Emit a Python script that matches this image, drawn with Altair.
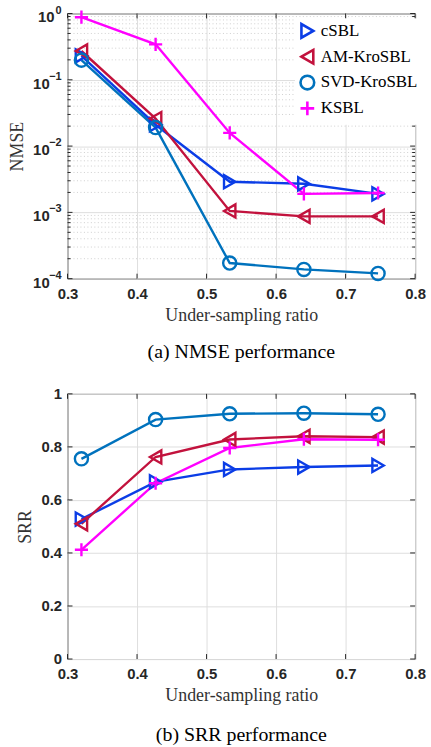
import altair as alt
import pandas as pd

# Under-sampling ratios (x positions shared by every series)
ratio = [0.32, 0.4267, 0.5333, 0.64, 0.7467]

methods = ["cSBL", "AM-KroSBL", "SVD-KroSBL", "KSBL"]
colors = ["#0b3de6", "#c2123d", "#0072bd", "#ff00ff"]
shapes = ["triangle-right", "triangle-left", "circle", "M-1,0H1M0,-1V1"]

# NMSE per method
nmse_csbl = [0.23, 0.021, 0.0029, 0.0027, 0.0019]
nmse_am = [0.272, 0.026, 0.00105, 0.00087, 0.00087]
nmse_svd = [0.198, 0.019, 0.000172, 0.000138, 0.00012]
nmse_ksbl = [0.88, 0.343, 0.0158, 0.0019, 0.00196]

# SRR per method
srr_csbl = [0.528, 0.668, 0.715, 0.724, 0.730]
srr_am = [0.510, 0.762, 0.828, 0.840, 0.837]
srr_svd = [0.755, 0.903, 0.925, 0.927, 0.923]
srr_ksbl = [0.412, 0.663, 0.796, 0.829, 0.827]

# Axis ticks and labels
x_ticks = [0.3, 0.4, 0.5, 0.6, 0.7, 0.8]
nmse_ticks = [1, 0.1, 0.01, 0.001, 0.0001]
nmse_bases = ["10", "10", "10", "10", "10"]
nmse_exponents = ["0", "\u22121", "\u22122", "\u22123", "\u22124"]
nmse_minor = [k * d for d in [0.0001, 0.001, 0.01, 0.1] for k in range(2, 10)]
srr_ticks = [0, 0.2, 0.4, 0.6, 0.8, 1]

captions = ["(a) NMSE performance", "(b) SRR performance"]
x_title = "Under-sampling ratio"

W, H = 350, 267
INK = "#262626"
GRID = "#dedede"
SANS = "Liberation Sans"
SERIF = "Liberation Serif"


def long_table(series):
    rows = []
    for m, vals in zip(methods, series):
        for xv, yv in zip(ratio, vals):
            rows.append({"ratio": xv, "value": yv, "method": m})
    return pd.DataFrame(rows)


def panel(series, yscale, yaxis, ytick_values, caption, caption_gap,
          minor=None, legend=None, powers=None):
    df = long_table(series)
    x_enc = alt.X(
        "ratio:Q",
        scale=alt.Scale(domain=[0.3, 0.8], nice=False, zero=False),
        axis=alt.Axis(
            values=x_ticks, format="~g", title=x_title, grid=True, gridColor=GRID,
            ticks=False, domain=False, labelPadding=8, labelFlush=False,
            titleY=37, titleX=W / 2, titleBaseline="middle",
        ),
    )
    y_enc = alt.Y("value:Q", scale=yscale, axis=yaxis)

    base_x = alt.X("ratio:Q")
    base_y = alt.Y("value:Q")

    layers = []
    if minor is not None:
        layers.append(
            alt.Chart(pd.DataFrame({"value": minor}))
            .mark_rule(color="#c4c4c4", strokeDash=[1, 2.5], strokeWidth=0.8)
            .encode(y=base_y)
        )

    lines = (
        alt.Chart(df)
        .mark_line(strokeWidth=2.4)
        .encode(
            x=x_enc, y=y_enc,
            color=alt.Color("method:N", scale=alt.Scale(domain=methods, range=colors), legend=None),
            detail="method:N",
        )
    )
    points = (
        alt.Chart(df)
        .mark_point(filled=False, size=175, strokeWidth=2.4, opacity=1)
        .encode(
            x=base_x, y=base_y,
            color=alt.Color("method:N", scale=alt.Scale(domain=methods, range=colors), legend=legend),
            shape=alt.Shape("method:N", scale=alt.Scale(domain=methods, range=shapes), legend=legend),
        )
    )
    layers += [lines, points]

    # inward ticks on all four sides of the box
    ytdf = pd.DataFrame({"value": ytick_values})
    xtdf = pd.DataFrame({"ratio": x_ticks})
    layers += [
        alt.Chart(ytdf).mark_rule(color=INK, strokeWidth=1).encode(y=base_y, x=alt.value(0), x2=alt.value(5)),
        alt.Chart(ytdf).mark_rule(color=INK, strokeWidth=1).encode(y=base_y, x=alt.value(W - 5), x2=alt.value(W)),
        alt.Chart(xtdf).mark_rule(color=INK, strokeWidth=1).encode(x=base_x, y=alt.value(0), y2=alt.value(5)),
        alt.Chart(xtdf).mark_rule(color=INK, strokeWidth=1).encode(x=base_x, y=alt.value(H - 5), y2=alt.value(H)),
    ]
    if minor is not None:
        mdf = pd.DataFrame({"value": minor})
        layers += [
            alt.Chart(mdf).mark_rule(color=INK, strokeWidth=1).encode(y=base_y, x=alt.value(0), x2=alt.value(3)),
            alt.Chart(mdf).mark_rule(color=INK, strokeWidth=1).encode(y=base_y, x=alt.value(W - 3), x2=alt.value(W)),
        ]

    # power-of-ten tick labels: base "10" plus a raised exponent
    if powers is not None:
        bases, exps = powers
        pdf = pd.DataFrame({"value": ytick_values, "b": bases, "e": exps})
        base_text = dict(font=SANS, fontWeight="bold", fontSize=15, color=INK,
                         align="right", baseline="middle", dy=4)
        layers += [
            alt.Chart(pdf).transform_filter("length(datum.e) == 1")
            .mark_text(**base_text).encode(y=base_y, x=alt.value(-13), text="b:N"),
            alt.Chart(pdf).transform_filter("length(datum.e) > 1")
            .mark_text(**base_text).encode(y=base_y, x=alt.value(-18), text="b:N"),
            alt.Chart(pdf)
            .mark_text(font=SANS, fontWeight="bold", fontSize=11, color=INK,
                       align="right", baseline="middle", dy=-3)
            .encode(y=base_y, x=alt.value(-6), text="e:N"),
        ]

    cap = (
        alt.Chart(pd.DataFrame({"t": [caption]}))
        .mark_text(font=SERIF, fontSize=20, color="black", baseline="middle", align="center")
        .encode(text="t:N", x=alt.value(W / 2), y=alt.value(H + caption_gap))
    )
    layers.append(cap)

    return (
        alt.layer(*layers)
        .resolve_scale(color="independent", shape="independent")
        .properties(width=W, height=H)
    )


top_axis = alt.Axis(
    values=nmse_ticks, labels=False, title="NMSE", grid=True, gridColor=GRID,
    ticks=False, domain=False,
    titleX=-50, titleY=H / 2, titleBaseline="middle",
)
bottom_axis = alt.Axis(
    values=srr_ticks, format="~g", title="SRR", grid=True, gridColor=GRID,
    ticks=False, domain=False, labelPadding=6, labelFlush=False,
    titleX=-42, titleY=H / 2, titleBaseline="middle",
)

legend = alt.Legend(
    orient="none", legendX=229, legendY=5, title=None, fillColor="white", padding=4,
    labelFont=SERIF, labelFontSize=17, labelColor="black", labelOffset=5,
    symbolSize=190, symbolStrokeWidth=2.6, rowPadding=1,
)

top = panel(
    [nmse_csbl, nmse_am, nmse_svd, nmse_ksbl],
    alt.Scale(type="log", domain=[0.0001, 1], nice=False),
    top_axis, nmse_ticks, captions[0], 74, minor=nmse_minor, legend=legend,
    powers=(nmse_bases, nmse_exponents),
)
bottom = panel(
    [srr_csbl, srr_am, srr_svd, srr_ksbl],
    alt.Scale(domain=[0, 1], nice=False),
    bottom_axis, srr_ticks, captions[1], 77, legend=None,
)

chart = (
    alt.vconcat(top, bottom, spacing=116, bounds="flush")
    .properties(padding={"left": 8, "top": 1, "right": 5, "bottom": 0}, background="white")
    .configure_view(stroke=INK, strokeWidth=1)
    .configure_axis(
        labelFont=SANS, labelFontWeight="bold", labelFontSize=15, labelColor=INK,
        titleFont=SERIF, titleFontWeight="normal", titleFontSize=18, titleColor="#333333",
    )
)

chart.save("out.html", embed_options={"renderer": "svg", "actions": False})
